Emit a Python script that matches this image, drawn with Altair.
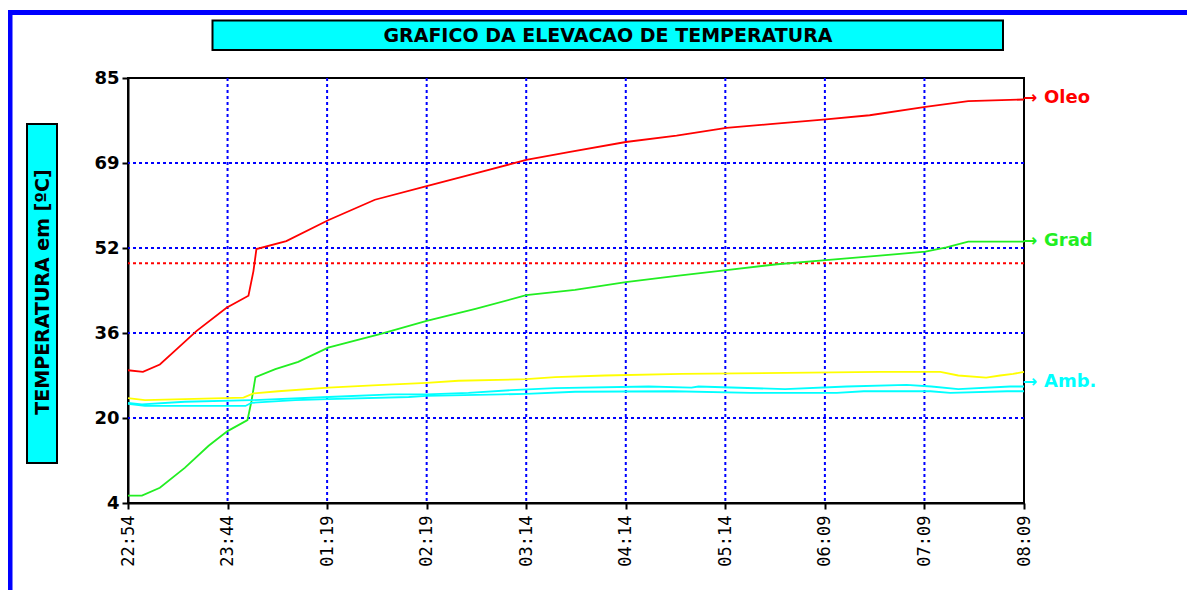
import altair as alt
import pandas as pd

# ---------------- data ----------------
x_labels = ["22:54", "23:44", "01:19", "02:19", "03:14", "04:14", "05:14", "06:09", "07:09", "08:09"]
y_ticks = [4, 20.2, 36.4, 52.6, 68.8, 85]
y_labels = ["4", "20", "36", "52", "69", "85"]

oleo_x = [0, 0.15, 0.32, 0.47, 0.69, 0.99, 1.21, 1.26, 1.29, 1.59, 2.01, 2.48, 3.00, 3.49, 4.00,
          4.44, 5.00, 5.51, 6.01, 6.45, 7.01, 7.45, 8.01, 8.44, 9.0]
oleo_y = [29.3, 29.0, 30.4, 33.0, 36.8, 41.2, 43.5, 48.2, 52.4, 53.9, 57.9, 61.8, 64.4, 66.8, 69.4,
          70.9, 72.8, 74.0, 75.5, 76.2, 77.1, 77.9, 79.5, 80.6, 80.9]

grad_x = [0, 0.14, 0.32, 0.57, 0.81, 1.00, 1.20, 1.24, 1.28, 1.48, 1.71, 2.01, 2.53, 3.00, 3.49,
          4.00, 4.49, 5.00, 5.51, 6.01, 6.52, 7.01, 7.52, 8.01, 8.22, 8.44, 9.0]
grad_y = [5.4, 5.4, 6.9, 10.7, 14.9, 17.7, 19.8, 23.4, 28.0, 29.5, 30.9, 33.6, 36.2, 38.7, 41.0,
          43.6, 44.6, 46.1, 47.3, 48.4, 49.5, 50.3, 51.1, 51.9, 52.7, 53.8, 53.8]

amb_y_x = [0, 0.17, 1.16, 1.26, 1.51, 2.01, 2.46, 3.00, 3.32, 4.00, 4.29, 4.79, 5.56, 7.55, 8.16,
           8.34, 8.62, 8.76, 8.89, 9.0]
amb_y_y = [24.0, 23.6, 24.1, 24.9, 25.3, 26.0, 26.4, 26.9, 27.3, 27.6, 28.0, 28.3, 28.6, 29.0, 29.0,
           28.3, 27.9, 28.3, 28.6, 29.0]

amb_a_x = [0, 0.14, 0.57, 1.24, 2.01, 2.65, 3.00, 3.42, 3.85, 4.29, 5.23, 5.66, 5.73, 6.60, 7.22,
           7.82, 8.07, 8.34, 8.86, 9.0]
amb_a_y = [23.1, 22.8, 23.3, 23.6, 24.2, 24.7, 24.7, 25.0, 25.5, 25.9, 26.2, 26.0, 26.2, 25.7, 26.2,
           26.5, 26.2, 25.7, 26.2, 26.2]

amb_b_x = [0, 0.17, 1.18, 1.24, 1.68, 2.01, 2.82, 3.00, 3.75, 4.00, 4.49, 5.48, 6.26, 7.12, 7.39,
           8.06, 8.26, 8.83, 9.0]
amb_b_y = [22.9, 22.5, 22.5, 23.1, 23.6, 23.8, 24.2, 24.4, 24.7, 24.8, 25.2, 25.3, 25.0, 25.0, 25.3,
           25.3, 25.0, 25.3, 25.3]

limit_value = 49.7

label_names = ["Oleo", "Grad", "Amb."]
label_values = [81.2, 53.9, 27.0]
label_colors = ["#ff0000", "#22ee22", "#00ffff"]

title_text = "GRAFICO DA ELEVACAO DE TEMPERATURA"
ytitle_text = "TEMPERATURA em [ºC]"

series_names = ["Oleo", "Grad", "Amb2", "AmbA", "AmbB"]
series_colors = ["#ff0000", "#22ee22", "#ffff00", "#00ffff", "#00ffff"]

# ---------------- build tables ----------------
rows = []
for name, xs, ys in [("Oleo", oleo_x, oleo_y), ("Grad", grad_x, grad_y),
                     ("Amb2", amb_y_x, amb_y_y), ("AmbA", amb_a_x, amb_a_y),
                     ("AmbB", amb_b_x, amb_b_y)]:
    for i, (a, b) in enumerate(zip(xs, ys)):
        rows.append({"serie": name, "x": a, "y": b, "i": i})
df = pd.DataFrame(rows)

W, H = 896, 425
BLUE = "#0000ff"
FONT = "DejaVu Sans"

xs_scale = alt.Scale(domain=[0, 9], nice=False, zero=False)
ys_scale = alt.Scale(domain=[4, 85], nice=False, zero=False)

xlab_js = "[" + ",".join("'%s'" % s for s in x_labels) + "]"
ylab_js = "[" + ",".join("'%s'" % s for s in y_labels) + "]"

x_axis = alt.Axis(values=list(range(10)), labelExpr=xlab_js + "[round(datum.value)]",
                  title=None, grid=False, labelAngle=-90, labelFont="DejaVu Sans Mono",
                  labelFontSize=17, labelColor="black", labelPadding=6,
                  domainColor="black", domainWidth=2, tickColor="black", tickWidth=2,
                  tickSize=6, labelFlush=False, labelOverlap=False)
y_axis = alt.Axis(values=y_ticks, labelExpr=ylab_js + "[round((datum.value-4)/16.2)]",
                  title=None, grid=False, labelFont=FONT, labelFontWeight="bold",
                  labelFontSize=18, labelColor="black", labelPadding=3,
                  domainColor="black", domainWidth=2, tickColor="black", tickWidth=2,
                  tickSize=6, labelFlush=False, labelOverlap=False)

# grid lines
xgrid = alt.Chart(pd.DataFrame({"x": list(range(1, 9))})).mark_rule(
    color=BLUE, strokeWidth=2, strokeDash=[3, 3]
).encode(x=alt.X("x:Q", scale=xs_scale, axis=x_axis))

ygrid = alt.Chart(pd.DataFrame({"y": y_ticks[1:-1]})).mark_rule(
    color=BLUE, strokeWidth=2, strokeDash=[3, 3]
).encode(y=alt.Y("y:Q", scale=ys_scale, axis=y_axis))

limit = alt.Chart(pd.DataFrame({"y": [limit_value]})).mark_rule(
    color="#ff0000", strokeWidth=2, strokeDash=[3, 3]
).encode(y=alt.Y("y:Q", scale=ys_scale, axis=y_axis))

lines = alt.Chart(df).mark_line(strokeWidth=1.8, clip=False).encode(
    x=alt.X("x:Q", scale=xs_scale, axis=x_axis),
    y=alt.Y("y:Q", scale=ys_scale, axis=y_axis),
    color=alt.Color("serie:N", scale=alt.Scale(domain=series_names, range=series_colors), legend=None),
    detail="serie:N",
    order="i:Q",
)

lab_df = pd.DataFrame({"name": label_names, "y": label_values, "c": label_colors,
                       "x": [9] * 3, "arrow": ["\u2192"] * 3})
arrows = alt.Chart(lab_df).mark_text(
    align="left", baseline="middle", dx=-1, font=FONT, fontWeight="bold", fontSize=17
).encode(
    x=alt.X("x:Q", scale=xs_scale, axis=x_axis),
    y=alt.Y("y:Q", scale=ys_scale, axis=y_axis),
    text="arrow:N",
    color=alt.Color("c:N", scale=None),
)
labels = alt.Chart(lab_df).mark_text(
    align="left", baseline="middle", dx=20, font=FONT, fontWeight="bold", fontSize=18
).encode(
    x=alt.X("x:Q", scale=xs_scale, axis=x_axis),
    y=alt.Y("y:Q", scale=ys_scale, axis=y_axis),
    text="name:N",
    color=alt.Color("c:N", scale=None),
)

# decorations: blue frame, title box, y-title box
one = pd.DataFrame({"t": [title_text]})
one_y = pd.DataFrame({"t": [ytitle_text]})

frame_top = alt.Chart(one).mark_rule(color=BLUE, strokeWidth=5).encode(
    x=alt.value(-125), x2=alt.value(1100), y=alt.value(-65.5))
frame_left = alt.Chart(one).mark_rule(color=BLUE, strokeWidth=5).encode(
    x=alt.value(-118), y=alt.value(-68), y2=alt.value(520))

title_box = alt.Chart(one).mark_rect(fill="#00ffff", stroke="black", strokeWidth=2).encode(
    x=alt.value(84.5), x2=alt.value(875), y=alt.value(-57.5), y2=alt.value(-28))
title_txt = alt.Chart(one).mark_text(
    align="center", baseline="middle", font=FONT, fontWeight="bold", fontSize=19, color="black"
).encode(x=alt.value(480), y=alt.value(-42), text="t:N")

ytitle_box = alt.Chart(one_y).mark_rect(fill="#00ffff", stroke="black", strokeWidth=2).encode(
    x=alt.value(-101), x2=alt.value(-71), y=alt.value(46), y2=alt.value(385))
ytitle_txt = alt.Chart(one_y).mark_text(
    align="center", baseline="middle", angle=270, font=FONT, fontWeight="bold",
    fontSize=19, color="black"
).encode(x=alt.value(-85), y=alt.value(214), text="t:N")

chart = alt.layer(
    xgrid, ygrid, limit, lines, arrows, labels,
    frame_top, frame_left, title_box, title_txt, ytitle_box, ytitle_txt
).properties(
    width=W, height=H,
    autosize=alt.AutoSizeParams(type="none"),
    padding={"left": 120, "top": 70, "right": 163, "bottom": 87},
    background="white",
).configure_view(stroke="black", strokeWidth=2)

chart.save("out.html", embed_options={"renderer": "svg", "actions": False})
